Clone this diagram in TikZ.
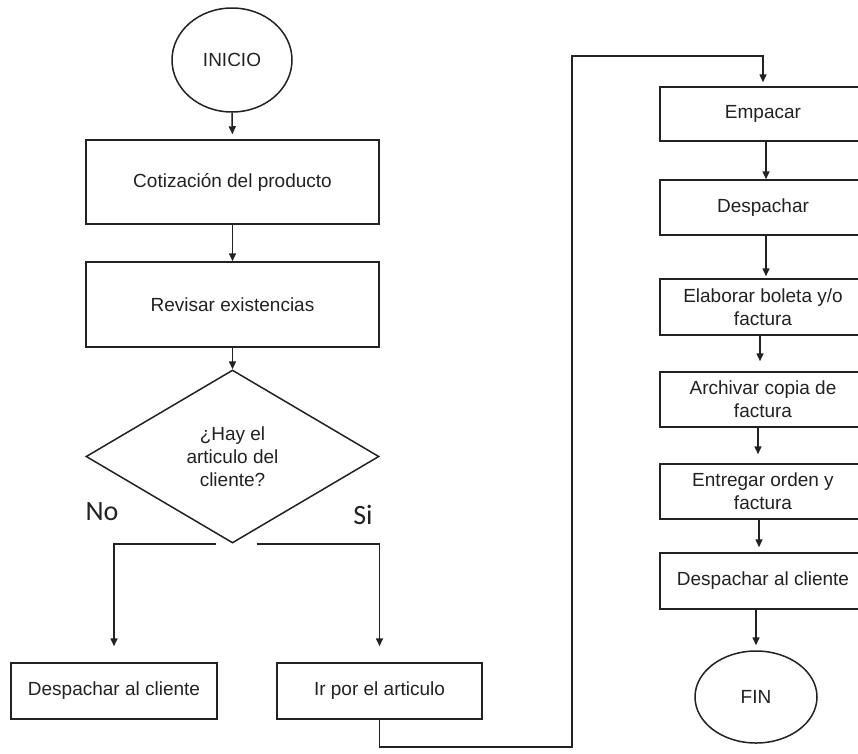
\documentclass[tikz,border=0pt]{standalone}
\usepackage{fontspec}
\setmainfont{Liberation Sans}
\newfontfamily\carlito{Carlito}
\usetikzlibrary{shapes.geometric,arrows.meta}
\definecolor{ink}{HTML}{222222}
\tikzset{
  every node/.style={font=\fontsize{19}{23}\selectfont, text=ink},
  box/.style={draw=ink, line width=1.5pt, rectangle, inner sep=0pt, align=center},
  term/.style={draw=ink, line width=1.5pt, ellipse, inner sep=0pt},
  decis/.style={draw=ink, line width=1.5pt, diamond, inner sep=0pt, aspect=1.7, align=center},
  lbl/.style={font=\carlito\fontsize{28}{30}\selectfont, text=ink},
  arr/.style={draw=ink, line width=1.5pt, -{Triangle[length=8pt,width=7pt]}},
  ln/.style={draw=ink, line width=1.5pt}
}
\begin{document}
\begin{tikzpicture}[x=1pt,y=-1pt]
\useasboundingbox (0,0) rectangle (858,753);
\clip (0,0) rectangle (858,753);
\fill[white] (0,0) rectangle (858,753);

% left column
\node[term, minimum width=120pt, minimum height=104pt] (inicio) at (232,60) {INICIO};
\node[box, minimum width=293pt, minimum height=84pt] (coti) at (232.5,182) {Cotización del producto};
\node[box, minimum width=293pt, minimum height=85pt] (rev) at (232.5,304.5) {Revisar existencias};
\node[decis, minimum width=293pt, minimum height=173pt] (dec) at (232.5,456.5) {¿Hay el\\articulo del\\cliente?};
\node[lbl] (no) at (102,512) {No};
\node[lbl] (si) at (363,515) {Si};
\node[box, minimum width=206pt, minimum height=56pt] (desp1) at (114,691) {Despachar al cliente};
\node[box, minimum width=205pt, minimum height=56pt] (ir) at (379.5,691) {Ir por el articulo};

% right column
\node[box, minimum width=206pt, minimum height=54pt] (emp) at (763,114) {Empacar};
\node[box, minimum width=206pt, minimum height=55pt] (desp2) at (763,207.5) {Despachar};
\node[box, minimum width=206pt, minimum height=56pt] (elab) at (763,307) {Elaborar boleta y/o\\factura};
\node[box, minimum width=206pt, minimum height=55pt] (arch) at (763,399.5) {Archivar copia de\\factura};
\node[box, minimum width=206pt, minimum height=55pt] (entr) at (763,491.5) {Entregar orden y\\factura};
\node[box, minimum width=206pt, minimum height=56pt] (desp3) at (763,581) {Despachar al cliente};
\node[term, minimum width=122pt, minimum height=92pt] (fin) at (756,697) {FIN};

% connectors left
\draw[arr, shorten >=5pt] (inicio.south) -- (coti.north);
\draw[arr] (coti.south) -- (rev.north);
\draw[arr] (rev.south) -- (dec.north);
\draw[arr, shorten >=16pt] ([xshift=-17pt]dec.south) -| (desp1.north);
\draw[arr, shorten >=16pt] ([xshift=24pt]dec.south) -| (ir.north);

% loop connector
\coordinate (c1) at (572,747);
\coordinate (c2) at (572,56);
\draw[arr, shorten >=4pt] (ir.south) |- (c1) -- (c2) -| (emp.north);

% connectors right
\draw[arr] ([xshift=3pt]emp.south) -- ([xshift=3pt]desp2.north);
\draw[arr, shorten >=2pt] ([xshift=3pt]desp2.south) -- ([xshift=3pt]elab.north);
\draw[arr, shorten >=10pt] ([xshift=-3pt]elab.south) -- ([xshift=-3pt]arch.north);
\draw[arr, shorten >=9pt] ([xshift=-5pt]arch.south) -- ([xshift=-5pt]entr.north);
\draw[arr, shorten >=5pt] ([xshift=-4pt]entr.south) -- ([xshift=-4pt]desp3.north);
\draw[arr, shorten >=5pt] (desp3.south -| fin.north) -- (fin.north);
\end{tikzpicture}
\end{document}
